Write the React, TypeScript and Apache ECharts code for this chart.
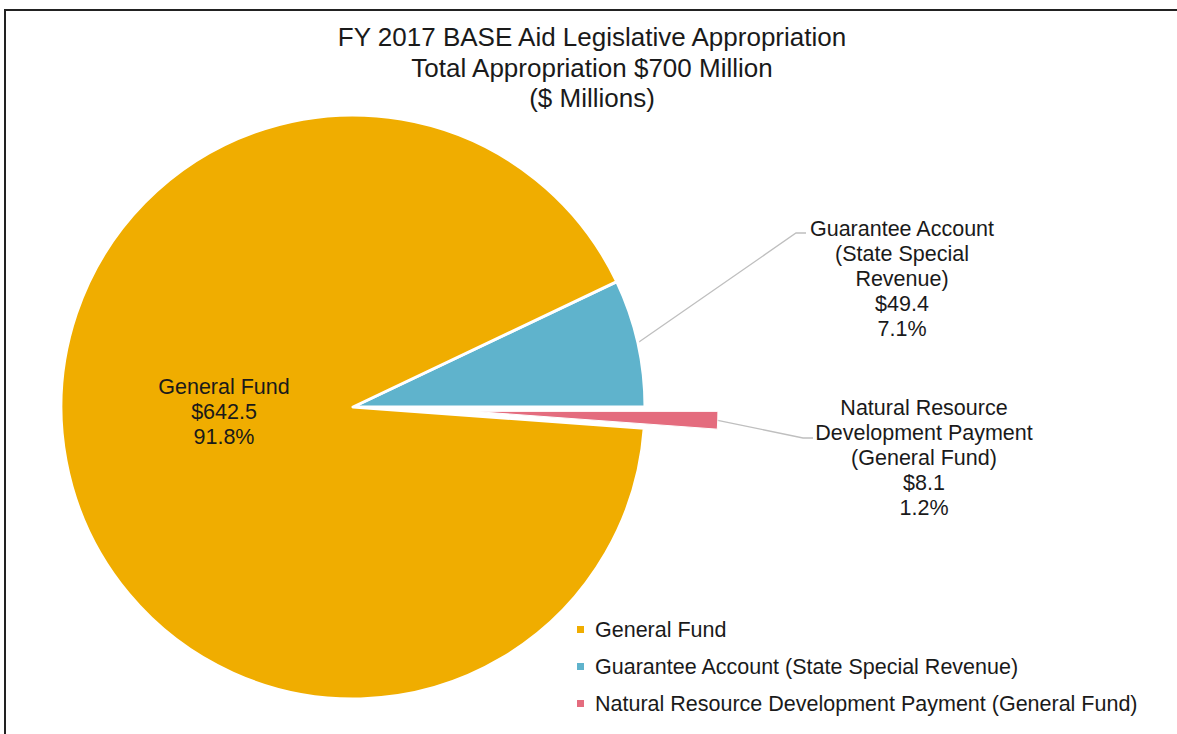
import React, { useEffect, useRef } from 'react';
import * as echarts from 'echarts';

// ---------- data ----------
const categories = [
  'General Fund',
  'Guarantee Account (State Special Revenue)',
  'Natural Resource Development Payment (General Fund)',
];
const values = [642.5, 49.4, 8.1];
const labelNames = [
  'General Fund',
  'Guarantee Account\n(State Special\nRevenue)',
  'Natural Resource\nDevelopment Payment\n(General Fund)',
];
const colors = ['#F0AD00', '#5FB3CC', '#E46C7E'];
const titleLines = [
  'FY 2017 BASE Aid Legislative Appropriation',
  'Total Appropriation $700 Million',
  '($ Millions)',
];
// slices drawn clockwise starting at the top edge of the Guarantee slice
const sliceOrder = [1, 2, 0];

// ---------- layout / style ----------
const FONT = '"Liberation Sans", Arial, Helvetica, sans-serif';
const TEXT = '#1a1a1a';
const CX = 353;
const CY = 407;
const R = 292;
const EXPLODE = 120;
const R2 = 245;

export default function App() {
  const ref = useRef<HTMLDivElement>(null);

  useEffect(() => {
    if (!ref.current) return;
    const chart = echarts.init(ref.current, null, { renderer: 'svg' });

    const total = values.reduce((a, b) => a + b, 0);
    const startAngle = (values[1] / total) * 360;
    const guarMid = (startAngle / 2) * Math.PI / 180;
    const pinkMid = (-(values[2] / total) * 360 / 2) * Math.PI / 180;
    const c2x = CX + EXPLODE * Math.cos(pinkMid);
    const c2y = CY - EXPLODE * Math.sin(pinkMid);

    const fmt = (p: any) => {
      const i = categories.indexOf(p.name);
      const pct = ((values[i] / total) * 100).toFixed(1);
      return `${labelNames[i]}\n$${values[i]}\n${pct}%`;
    };

    const labelStyle = {
      fontFamily: FONT,
      fontSize: 21.5,
      lineHeight: 25,
      color: TEXT,
      formatter: fmt,
    };

    const mainData = sliceOrder.map((i) => ({
      name: categories[i],
      value: values[i],
      itemStyle:
        i === 2
          ? { color: 'rgba(0,0,0,0)', borderWidth: 0 }
          : { color: colors[i] },
      label:
        i === 2
          ? { show: false }
          : { show: true, position: i === 0 ? 'inside' : 'outside' },
      labelLine: { show: i === 1 },
    }));

    const pinkData = sliceOrder.map((i) => ({
      name: categories[i],
      value: values[i],
      itemStyle:
        i === 2
          ? { color: colors[i], borderColor: '#fff', borderWidth: 1 }
          : { color: 'rgba(0,0,0,0)', borderWidth: 0 },
      label: i === 2 ? { show: true, position: 'outside' } : { show: false },
      labelLine: { show: i === 2 },
    }));

    const option: any = {
      animation: false,
      backgroundColor: '#ffffff',
      title: {
        text: titleLines.join('\n'),
        left: 592,
        top: 22,
        padding: 0,
        textAlign: 'center',
        textStyle: {
          fontFamily: FONT,
          fontSize: 26,
          lineHeight: 30.5,
          fontWeight: 'normal',
          color: TEXT,
        },
      },
      legend: {
        orient: 'vertical',
        left: 577,
        top: 617,
        icon: 'rect',
        itemWidth: 7,
        itemHeight: 7,
        itemGap: 12,
        selectedMode: false,
        padding: 0,
        textStyle: {
          fontFamily: FONT,
          fontSize: 21.5,
          lineHeight: 25,
          color: TEXT,
          padding: [0, 0, 0, 6],
        },
        data: categories.map((name, i) => ({
          name,
          itemStyle: { color: colors[i], borderWidth: 0 },
        })),
      },
      graphic: [
        {
          type: 'rect',
          shape: { x: 5, y: 10, width: 1200, height: 800 },
          style: { fill: 'none', stroke: '#222', lineWidth: 2 },
          silent: true,
        },
      ],
      series: [
        {
          type: 'pie',
          center: [CX, CY],
          radius: [0, R],
          startAngle,
          clockwise: true,
          avoidLabelOverlap: false,
          emphasis: { disabled: true },
          itemStyle: { borderColor: '#ffffff', borderWidth: 3 },
          label: labelStyle,
          labelLine: {
            length: 20,
            length2: 10,
            lineStyle: { color: '#BFBFBF', width: 1.3 },
          },
          labelLayout: (params: any) => {
            const i = sliceOrder[params.dataIndex];
            if (i === 0) {
              return { x: 224, y: 412, align: 'center', verticalAlign: 'middle' };
            }
            if (i === 1) {
              const sx = CX + R * Math.cos(guarMid);
              const sy = CY - R * Math.sin(guarMid);
              return {
                x: 902,
                y: 216,
                align: 'center',
                verticalAlign: 'top',
                labelLinePoints: [[sx, sy], [796, 233], [806, 233]],
              };
            }
            return {};
          },
          data: mainData,
        },
        {
          type: 'pie',
          center: [c2x, c2y],
          radius: [0, R2],
          startAngle,
          clockwise: true,
          avoidLabelOverlap: false,
          silent: true,
          emphasis: { disabled: true },
          label: labelStyle,
          labelLine: {
            length: 20,
            length2: 10,
            lineStyle: { color: '#BFBFBF', width: 1.3 },
          },
          labelLayout: (params: any) => {
            const i = sliceOrder[params.dataIndex];
            if (i === 2) {
              const sx = c2x + R2 * Math.cos(pinkMid);
              const sy = c2y - R2 * Math.sin(pinkMid);
              return {
                x: 924,
                y: 395,
                align: 'center',
                verticalAlign: 'top',
                labelLinePoints: [[sx, sy], [803, 438], [813, 438]],
              };
            }
            return {};
          },
          data: pinkData,
        },
      ],
    };

    chart.setOption(option);
    return () => chart.dispose();
  }, []);

  return (
    <div
      ref={ref}
      style={{ position: 'absolute', left: 0, top: 0, width: 1177, height: 734 }}
    />
  );
}
